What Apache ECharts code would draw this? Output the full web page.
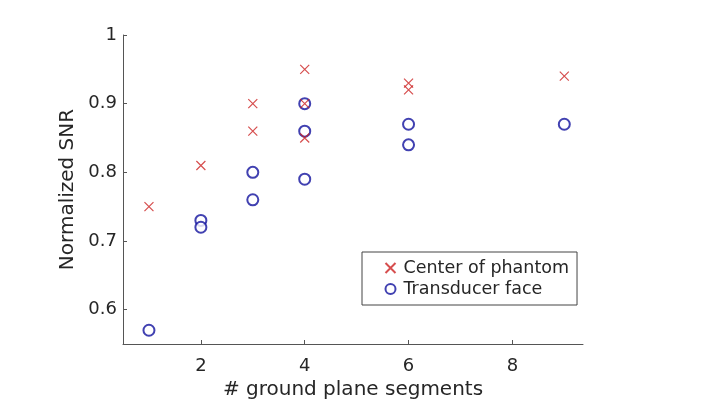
<!DOCTYPE html>
<html>
<head>
<meta charset="utf-8">
<script src="https://cdn.jsdelivr.net/npm/echarts@6/dist/echarts.min.js"></script>
<style>
  html, body { margin: 0; padding: 0; background: #fff; }
  #chart { width: 720px; height: 405px; }
</style>
</head>
<body>
<div id="chart"></div>
<script>
  // segments vs. normalized SNR
  const centerX = [1, 2, 3, 3, 4, 4, 4, 6, 6, 9]
  const centerY = [0.75, 0.81, 0.90, 0.86, 0.95, 0.90, 0.85, 0.93, 0.92, 0.94]
  const faceX = [1, 2, 2, 3, 3, 4, 4, 4, 6, 6, 9]
  const faceY = [0.57, 0.73, 0.72, 0.80, 0.76, 0.90, 0.86, 0.79, 0.87, 0.84, 0.87]
  const xTicks = [2, 4, 6, 8]
  const yTicks = [0.6, 0.7, 0.8, 0.9, 1]

  const font = 'DejaVu Sans'
  const crossPath = 'path://M0,0L10,10M10,0L0,10'
  const red = '#cc2222'
  const blue = '#12129e'
  const ink = '#262626'

  const chart = echarts.init(document.getElementById('chart'))
  chart.setOption({
    backgroundColor: '#fff',
    animation: false,
    textStyle: { fontFamily: font },
    grid: { left: 123, top: 35, width: 460, height: 309, containLabel: false, outerBoundsMode: 'none' },
    legend: {
      orient: 'vertical',
      left: 362,
      top: 252,
      width: 214,
      padding: [7, 8, 7, 21],
      itemGap: 3,
      itemWidth: 10,
      itemHeight: 10,
      borderColor: '#444',
      borderWidth: 1,
      backgroundColor: '#fff',
      textStyle: { fontFamily: font, fontSize: 17.5, lineHeight: 18, color: ink, padding: [0, 0, 0, 3] },
      data: ['Center of phantom', 'Transducer face']
    },
    xAxis: {
      type: 'value',
      min: 0.5,
      max: 9.36,
      name: '# ground plane segments',
      nameLocation: 'middle',
      nameGap: 36,
      nameTextStyle: { fontFamily: font, fontSize: 20, color: ink },
      axisLine: { show: true, lineStyle: { color: '#555' } },
      axisTick: { show: true, inside: true, length: 4, customValues: xTicks, lineStyle: { color: '#555' } },
      axisLabel: { customValues: xTicks, fontFamily: font, fontSize: 18, color: ink, margin: 13 },
      splitLine: { show: false }
    },
    yAxis: {
      type: 'value',
      min: 0.55,
      max: 1,
      name: 'Normalized SNR',
      nameLocation: 'middle',
      nameGap: 41,
      nameTextStyle: { fontFamily: font, fontSize: 20, color: ink },
      axisLine: { show: true, lineStyle: { color: '#555' } },
      axisTick: { show: true, inside: true, length: 4, customValues: yTicks, lineStyle: { color: '#555' } },
      axisLabel: {
        customValues: yTicks,
        fontFamily: font, fontSize: 18, color: ink, margin: 6,
        formatter: v => (v === 1 ? '1' : v.toFixed(1))
      },
      splitLine: { show: false }
    },
    series: [
      {
        name: 'Center of phantom',
        type: 'scatter',
        symbol: crossPath,
        symbolSize: 9,
        itemStyle: { color: 'none', borderColor: red, borderWidth: 1.2 },
        data: centerX.map((x, i) => [x, centerY[i]])
      },
      {
        name: 'Transducer face',
        type: 'scatter',
        symbol: 'emptyCircle',
        symbolSize: 11,
        z: 1,
        itemStyle: { color: blue, borderColor: blue, borderWidth: 1.4 },
        data: faceX.map((x, i) => [x, faceY[i]])
      }
    ]
  })
</script>
</body>
</html>
